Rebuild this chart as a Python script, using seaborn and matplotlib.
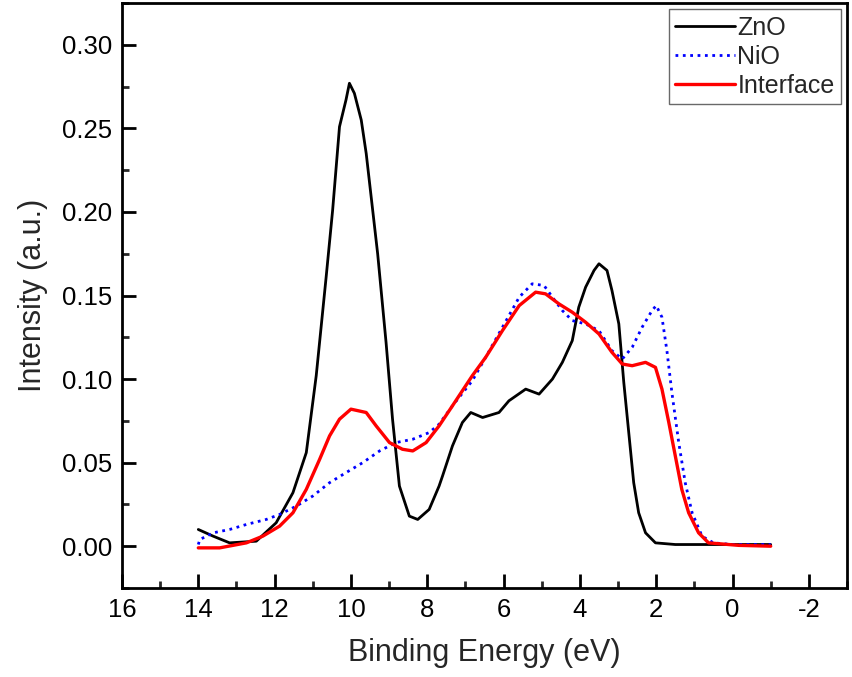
import numpy as np
import pandas as pd
import matplotlib
matplotlib.use('Agg')
import matplotlib.pyplot as plt
from matplotlib.ticker import MultipleLocator
import seaborn as sns

# values
zno_e = [14.0, 13.61, 13.18, 12.48, 11.96, 11.52, 11.17, 10.91, 10.65, 10.48, 10.30, 10.13,
         10.04, 9.91, 9.73, 9.60, 9.30, 9.08, 8.91, 8.73, 8.47, 8.25, 7.95, 7.69, 7.60, 7.34,
         7.08, 6.86, 6.55, 6.12, 5.86, 5.42, 5.07, 4.72, 4.46, 4.20, 4.03, 3.85, 3.63, 3.50,
         3.29, 3.16, 2.98, 2.85, 2.72, 2.59, 2.46, 2.28, 2.02, 1.5, 1.0, 0.5, 0.0, -0.5, -1.0]
zno_i = [0.010, 0.006, 0.002, 0.003, 0.014, 0.032, 0.056, 0.102, 0.161, 0.201, 0.251, 0.267,
         0.277, 0.271, 0.255, 0.235, 0.175, 0.122, 0.076, 0.036, 0.018, 0.016, 0.022, 0.036,
         0.042, 0.060, 0.074, 0.080, 0.077, 0.080, 0.087, 0.094, 0.091, 0.100, 0.110, 0.123,
         0.143, 0.155, 0.165, 0.169, 0.165, 0.153, 0.133, 0.098, 0.068, 0.038, 0.020, 0.008,
         0.002, 0.001, 0.001, 0.001, 0.001, 0.001, 0.001]

nio_e = [14.0, 13.96, 13.61, 13.18, 12.74, 12.22, 11.87, 11.43, 11.0, 10.56, 10.13, 9.69,
         9.25, 8.82, 8.38, 7.95, 7.69, 7.34, 6.82, 6.47, 6.03, 5.59, 5.25, 4.94, 4.72, 4.46,
         4.20, 3.85, 3.50, 3.16, 2.89, 2.63, 2.37, 2.11, 2.00, 1.85, 1.72, 1.59, 1.41, 1.24,
         1.06, 0.80, 0.50, 0.0, -0.5, -1.0]
nio_i = [0.001, 0.004, 0.008, 0.010, 0.013, 0.016, 0.019, 0.024, 0.030, 0.038, 0.044, 0.050,
         0.057, 0.062, 0.064, 0.068, 0.073, 0.084, 0.099, 0.113, 0.131, 0.149, 0.157, 0.156,
         0.149, 0.141, 0.135, 0.133, 0.129, 0.117, 0.112, 0.119, 0.131, 0.141, 0.144, 0.137,
         0.117, 0.092, 0.062, 0.038, 0.020, 0.006, 0.002, 0.001, 0.001, 0.001]

int_e = [14.0, 13.44, 12.74, 12.31, 11.87, 11.52, 11.17, 10.82, 10.56, 10.30, 10.00, 9.60,
         9.34, 8.99, 8.65, 8.38, 8.03, 7.69, 7.34, 6.82, 6.47, 6.03, 5.59, 5.16, 4.90, 4.55,
         4.20, 3.85, 3.50, 3.16, 2.89, 2.63, 2.28, 2.02, 1.85, 1.67, 1.50, 1.33, 1.15, 0.89,
         0.63, -0.16, -1.0]
int_i = [-0.001, -0.001, 0.002, 0.006, 0.012, 0.020, 0.034, 0.052, 0.066, 0.076, 0.082, 0.080,
         0.072, 0.062, 0.058, 0.057, 0.062, 0.072, 0.084, 0.102, 0.113, 0.129, 0.144, 0.152,
         0.151, 0.145, 0.140, 0.134, 0.127, 0.116, 0.109, 0.108, 0.110, 0.107, 0.094, 0.074,
         0.054, 0.034, 0.020, 0.008, 0.002, 0.0005, 0.0]

sns.set_style('ticks')
plt.rcParams['font.family'] = ['Liberation Sans', 'DejaVu Sans']

fig = plt.figure(figsize=(8.53, 6.77), dpi=100)
ax = fig.add_axes([0.143, 0.1315, 0.850, 0.864])

sns.lineplot(x=zno_e, y=zno_i, ax=ax, color='black', lw=2, label='ZnO', sort=False, estimator=None)
sns.lineplot(x=nio_e, y=nio_i, ax=ax, color='blue', lw=2, ls=':', label='NiO', sort=False, estimator=None)
sns.lineplot(x=int_e, y=int_i, ax=ax, color='red', lw=2.4, label='Interface', sort=False, estimator=None)

ax.set_xlim(16, -3)
ax.set_ylim(-0.025, 0.325)
ax.xaxis.set_major_locator(MultipleLocator(2))
ax.xaxis.set_minor_locator(MultipleLocator(1))
ax.yaxis.set_major_locator(MultipleLocator(0.05))
ax.yaxis.set_minor_locator(MultipleLocator(0.025))
ax.yaxis.set_major_formatter(matplotlib.ticker.FormatStrFormatter('%.2f'))
ax.set_xticks([t for t in range(16, -3, -2)])
ax.set_xticklabels([str(t) for t in range(16, -3, -2)])

ax.tick_params(which='major', direction='in', length=10, width=2, labelsize=18.5, pad=7, colors='black')
ax.tick_params(which='minor', direction='in', length=5, width=2)
for s in ax.spines.values():
    s.set_linewidth(2)
    s.set_color('black')

ax.set_xlabel('Binding Energy (eV)', fontsize=22, labelpad=12)
ax.set_ylabel('Intensity (a.u.)', fontsize=22, labelpad=10)

leg = ax.legend(loc='upper right', fontsize=18, frameon=True, fancybox=False,
                borderaxespad=0.25, borderpad=0.25, labelspacing=0.2,
                handlelength=2.4, handletextpad=0.1)
leg.get_frame().set_edgecolor('#444444')
leg.get_frame().set_linewidth(1)

fig.savefig('out.png', dpi=100)
